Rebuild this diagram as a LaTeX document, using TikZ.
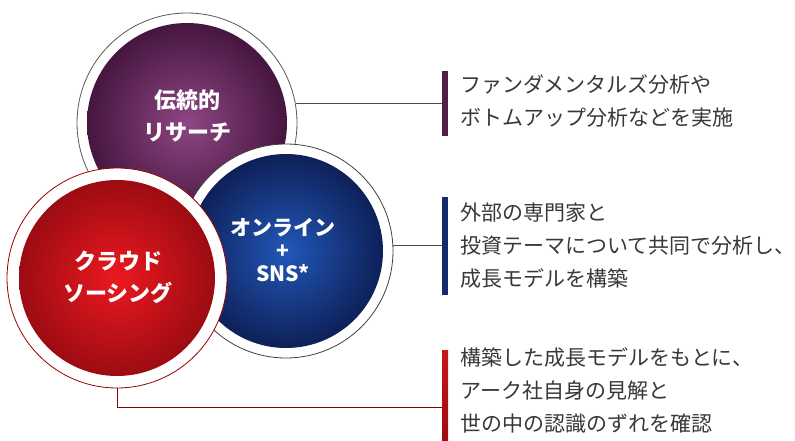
\documentclass[tikz,border=0pt]{standalone}
\usepackage{fontspec}
\newfontfamily\jpfont{Noto Sans CJK JP}
\usetikzlibrary{positioning}

\definecolor{plumin}{HTML}{8E4684}
\definecolor{plumout}{HTML}{46163F}
\definecolor{navyin}{HTML}{2158B8}
\definecolor{navyout}{HTML}{0E2058}
\definecolor{redin}{HTML}{EC1820}
\definecolor{redout}{HTML}{9C0C12}
\definecolor{textgrey}{HTML}{383838}

\begin{document}
\begin{tikzpicture}[x=1pt, y=-1pt,
    ring/.style={circle, draw=#1, line width=0.8pt, fill=white, inner sep=0pt},
    disc/.style={circle, inner sep=0pt},
    circtext/.style={text=white, font=\jpfont\bfseries\fontsize{22}{32}\selectfont, align=center},
    desc/.style={text=textgrey, font=\jpfont\fontsize{21}{33}\selectfont, align=left, inner sep=0pt},
    tagbar/.style={rectangle, inner sep=0pt, minimum width=6pt},
    link/.style={draw=#1, line width=0.8pt}]

        \useasboundingbox (0,0) rectangle (795,441);

        % --- Purple circle (back) ---
        \node[ring=black!65, minimum size=220pt] (Pring) at (187,123) {};
        \node[disc, inner color=plumin, outer color=plumout, minimum size=200pt] (Pdisc) at (187,123) {};
        \node[circtext] (Ptitle) at (187,116) {伝統的\\リサーチ};

        % --- Blue circle ---
        \node[ring=black!75, minimum size=214pt] (Bring) at (286,251) {};
        \node[disc, inner color=navyin, outer color=navyout, minimum size=194pt] (Bdisc) at (286,251) {};
        \node[circtext, font=\jpfont\bfseries\fontsize{21}{23}\selectfont] (Btitle) at (283,250) {オンライン\\+\\SNS*};

        % --- Red circle (front) ---
        \node[ring=red!60!black, minimum size=220pt] (Rring) at (117,278) {};
        \node[disc, inner color=redin, outer color=redout, minimum size=196pt] (Rdisc) at (117,278) {};
        \node[circtext] (Rtitle) at (118,277) {クラウド\\ソーシング};

        % --- Bars and descriptions ---
        \node[tagbar, fill=plumout!85!plumin, minimum height=65pt] (Pbar) at (445,104) {};
        \node[tagbar, fill=navyout!80!navyin, minimum height=98pt] (Bbar) at (445,246) {};
        \node[tagbar, top color=redin!85!black, bottom color=redout, minimum height=92pt] (Rbar) at (445,396) {};

        \node[desc, right=12pt of Pbar, yshift=3pt] (Ptext) {ファンダメンタルズ分析や\\ボトムアップ分析などを実施};
        \node[desc, right=12pt of Bbar] (Btext) {外部の専門家と\\投資テーマについて共同で分析し、\\成長モデルを構築};
        \node[desc, right=12pt of Rbar, yshift=6pt] (Rtext) {構築した成長モデルをもとに、\\アーク社自身の見解と\\世の中の認識のずれを確認};

        % --- Connectors ---
        \coordinate (Rjoin) at (442,407);
        \draw[link=black!70] (Pring.10.5) -- (Pring.10.5 -| Pbar.west);
        \draw[link=black!70] (Bring.3.7) -- (Bring.3.7 -| Bbar.west);
        \draw[link=red!55!black] (Rring.south) |- (Rjoin);

    \end{tikzpicture}
\end{document}
